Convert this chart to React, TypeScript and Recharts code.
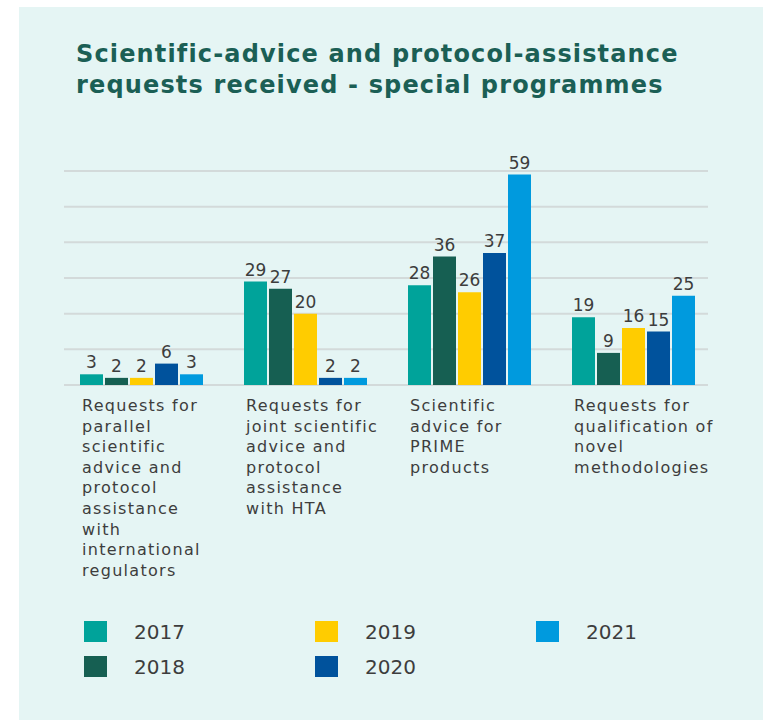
import React from 'react';
import { BarChart, Bar, XAxis, YAxis, CartesianGrid, LabelList } from 'recharts';

// ---------------------------------------------------------------------------
// Data
// ---------------------------------------------------------------------------

const categories = [
  'Requests for\nparallel\nscientific\nadvice and\nprotocol\nassistance\nwith\ninternational\nregulators',
  'Requests for\njoint scientific\nadvice and\nprotocol\nassistance\nwith HTA',
  'Scientific\nadvice for\nPRIME\nproducts',
  'Requests for\nqualification of\nnovel\nmethodologies',
];

const years = ['2017', '2018', '2019', '2020', '2021'];
const values2017 = [3, 29, 28, 19];
const values2018 = [2, 27, 36, 9];
const values2019 = [2, 20, 26, 16];
const values2020 = [6, 2, 37, 15];
const values2021 = [3, 2, 59, 25];
const yTicks = [0, 10, 20, 30, 40, 50, 60];

const colors = ['#00a39a', '#165f52', '#ffcc00', '#00529c', '#009ade'];
const seriesValues = [values2017, values2018, values2019, values2020, values2021];

const data = categories.map((name, i) => {
  const row: Record<string, string | number> = { name };
  years.forEach((y, k) => {
    row[y] = seriesValues[k][i];
  });
  return row;
});

const FONT = '"DejaVu Sans", Verdana, sans-serif';
const TEXT = '#3d3d3d';

// ---------------------------------------------------------------------------
// Pieces
// ---------------------------------------------------------------------------

const CategoryTick = (props: any) => {
  const { x, y, payload } = props;
  const lines = String(payload.value).split('\n');
  return (
    <text
      x={x - 60}
      y={y + 18}
      fill={TEXT}
      fontSize={16}
      fontFamily={FONT}
      letterSpacing={1.3}
      textAnchor="start"
    >
      {lines.map((l, i) => (
        <tspan key={i} x={x - 60} dy={i === 0 ? 0 : 20.6}>
          {l}
        </tspan>
      ))}
    </text>
  );
};

const GridLine = (props: any) => (
  <line
    x1={props.x1 + 4}
    x2={props.x2 - 8}
    y1={props.y1}
    y2={props.y2}
    stroke="#d3dada"
    strokeWidth={2}
  />
);

const legendColumns = [
  [0, 1],
  [2, 3],
  [4],
];
const legendLeft = [84, 315, 536];

export default function App() {
  return (
    <div
      style={{
        position: 'fixed',
        left: 0,
        top: 0,
        width: 763,
        height: 720,
        background: '#ffffff',
        overflow: 'hidden',
      }}
    >
      <div
        style={{
          position: 'absolute',
          left: 19,
          top: 7,
          width: 744,
          height: 713,
          background: '#e5f5f4',
        }}
      />
      <div
        style={{
          position: 'absolute',
          left: 76,
          top: 39,
          fontFamily: FONT,
          fontWeight: 'bold',
          fontSize: 24,
          letterSpacing: 1.15,
          lineHeight: '31px',
          color: '#1b5f55',
          whiteSpace: 'nowrap',
        }}
      >
        Scientific-advice and protocol-assistance
        <br />
        requests received - special programmes
      </div>

      <div style={{ position: 'absolute', left: 0, top: 0 }}>
        <BarChart
          width={763}
          height={600}
          data={data}
          margin={{ top: 171, right: 47, bottom: 15, left: 60 }}
          barCategoryGap={20}
          barGap={2}
        >
          <CartesianGrid vertical={false} horizontal={GridLine} />
          <XAxis
            dataKey="name"
            height={200}
            axisLine={false}
            tickLine={false}
            interval={0}
            tick={<CategoryTick />}
          />
          <YAxis hide domain={[0, 60]} ticks={yTicks} />
          {years.map((y, k) => (
            <Bar key={y} dataKey={y} fill={colors[k]} isAnimationActive={false}>
              <LabelList
                dataKey={y}
                position="top"
                offset={6}
                fill={TEXT}
                fontSize={17}
                fontFamily={FONT}
              />
            </Bar>
          ))}
        </BarChart>
      </div>

      {legendColumns.map((col, c) =>
        col.map((k, r) => (
          <div
            key={years[k]}
            style={{
              position: 'absolute',
              left: legendLeft[c],
              top: 621 + r * 35,
              height: 21,
              display: 'flex',
              alignItems: 'center',
              fontFamily: FONT,
              fontSize: 20,
              color: TEXT,
            }}
          >
            <span style={{ width: 23, height: 21, background: colors[k], display: 'inline-block' }} />
            <span style={{ marginLeft: 27 }}>{years[k]}</span>
          </div>
        ))
      )}
    </div>
  );
}
